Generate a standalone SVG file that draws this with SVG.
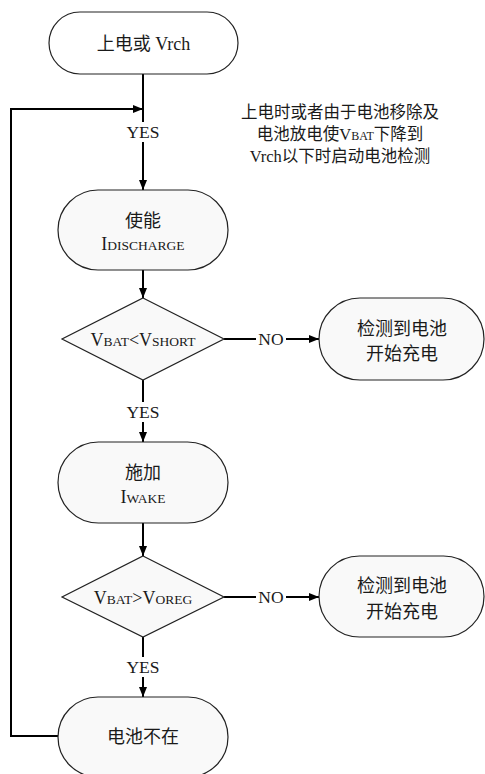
<svg xmlns="http://www.w3.org/2000/svg" width="485" height="774" viewBox="0 0 485 774">
<style>
.n{fill:#f9f9f9;stroke:#222;stroke-width:1.2}
.c{fill:none;stroke:#000;stroke-width:2}
text{font-family:"Liberation Serif","Noto Sans CJK SC",serif;fill:#1a1a1a;text-anchor:middle}
.t{font-size:18px}
.y{font-size:17.5px}
.a{font-size:16.5px}
.s{font-size:13.5px}
.sa{font-size:12px}
</style>
<defs>
<marker id="ah" viewBox="0 0 10 10" refX="10" refY="5" markerWidth="10" markerHeight="10" markerUnits="userSpaceOnUse" orient="auto">
<path d="M0,1 L10,5 L0,9 z" fill="#000"/>
</marker>
</defs>
<rect width="485" height="774" fill="#fff"/>
<g id="connectors">
<path class="c" d="M143,74 V122"/>
<path class="c" d="M143,142 V190" marker-end="url(#ah)"/>
<path class="c" d="M58,736 H11 V109 H143" marker-end="url(#ah)"/>
<path class="c" d="M143,270 V298" marker-end="url(#ah)"/>
<path class="c" d="M224,339 H256"/>
<path class="c" d="M286,339 H319" marker-end="url(#ah)"/>
<path class="c" d="M143,380 V402"/>
<path class="c" d="M143,422 V442" marker-end="url(#ah)"/>
<path class="c" d="M143,523 V556" marker-end="url(#ah)"/>
<path class="c" d="M224,597 H256"/>
<path class="c" d="M286,597 H319" marker-end="url(#ah)"/>
<path class="c" d="M143,637 V657"/>
<path class="c" d="M143,677 V697" marker-end="url(#ah)"/>
<text class="y" x="143" y="138">YES</text>
<text class="y" x="271" y="345">NO</text>
<text class="y" x="143" y="418">YES</text>
<text class="y" x="271" y="603">NO</text>
<text class="y" x="143" y="673">YES</text>
</g>
<g id="start">
<rect class="n" x="49" y="12" width="189" height="62" rx="31" style="fill:#fff"/>
<text class="t" x="143.5" y="50">上电或 Vrch</text>
</g>
<g id="note">
<text class="a" x="340" y="118">上电时或者由于电池移除及</text>
<text class="a" x="340" y="140">电池放电使V<tspan class="sa">BAT</tspan>下降到</text>
<text class="a" x="340" y="162">Vrch以下时启动电池检测</text>
</g>
<g id="enable">
<rect class="n" x="58" y="190" width="170" height="80" rx="40"/>
<text class="t" x="143" y="227">使能</text>
<text class="t" x="143" y="250">I<tspan class="s">DISCHARGE</tspan></text>
</g>
<g id="d1">
<polygon class="n" points="143,298 224,339 143,380 62,339"/>
<text class="t" x="143" y="346">V<tspan class="s">BAT</tspan>&lt;V<tspan class="s">SHORT</tspan></text>
</g>
<g id="r1">
<rect class="n" x="319" y="298" width="165" height="82" rx="41"/>
<text class="t" x="402" y="335">检测到电池</text>
<text class="t" x="402" y="360">开始充电</text>
</g>
<g id="apply">
<rect class="n" x="58" y="442" width="170" height="81" rx="40.5"/>
<text class="t" x="143" y="479">施加</text>
<text class="t" x="143" y="503">I<tspan class="s">WAKE</tspan></text>
</g>
<g id="d2">
<polygon class="n" points="143,556 224,597 143,637 62,597"/>
<text class="t" x="143" y="604">V<tspan class="s">BAT</tspan>&gt;V<tspan class="s">OREG</tspan></text>
</g>
<g id="r2">
<rect class="n" x="319" y="556" width="165" height="81" rx="40.5"/>
<text class="t" x="402" y="592">检测到电池</text>
<text class="t" x="402" y="618">开始充电</text>
</g>
<g id="absent">
<rect class="n" x="58" y="697" width="170" height="80" rx="40"/>
<text class="t" x="143" y="743">电池不在</text>
</g>
</svg>
